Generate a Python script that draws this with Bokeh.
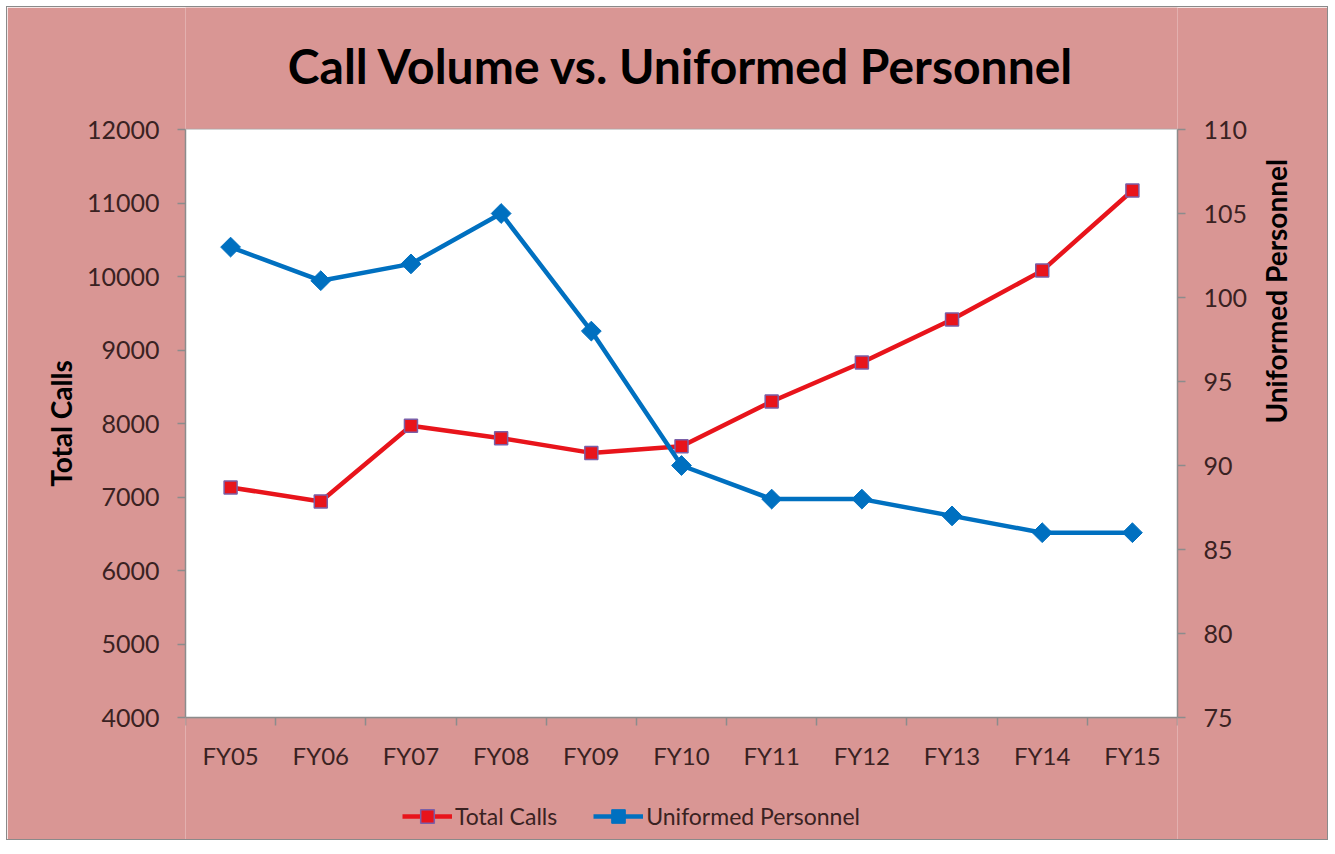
import math
from bokeh.plotting import figure
from bokeh.models import Range1d, LinearAxis, FixedTicker, Legend, LegendItem, BoxAnnotation, Label
from bokeh.embed import file_html
from bokeh.resources import INLINE

categories = ["FY05", "FY06", "FY07", "FY08", "FY09", "FY10", "FY11", "FY12", "FY13", "FY14", "FY15"]
total_calls = [7130, 6940, 7970, 7800, 7600, 7690, 8300, 8830, 9415, 10080, 11170]
uniformed = [103, 101, 102, 105, 98, 90, 88, 88, 87, 86, 86]
left_ticks = [4000, 5000, 6000, 7000, 8000, 9000, 10000, 11000, 12000]
right_ticks = [75, 80, 85, 90, 95, 100, 105, 110]
title_text = "Call Volume vs. Uniformed Personnel"

FONT = "Lato"
TXT = "#3a2222"
BG = "#D99694"

xs = list(range(len(categories)))

# layout: plot area 992x588 px, with equal strips above and below it (inside the
# frame) that carry the title, the x-axis labels and the legend
PLOT_W = 992
PLOT_H = 588
EXT = 122
l_lo, l_hi = left_ticks[0], left_ticks[-1]
r_lo, r_hi = right_ticks[0], right_ticks[-1]
l_ext = EXT / PLOT_H * (l_hi - l_lo)
r_ext = EXT / PLOT_H * (r_hi - r_lo)

p = figure(frame_width=PLOT_W, frame_height=PLOT_H + 2 * EXT, output_backend="svg", toolbar_location=None,
           x_range=Range1d(-0.5, len(categories) - 0.5), y_range=Range1d(l_lo - l_ext, l_hi + l_ext),
           min_border_left=178, min_border_right=150, min_border_top=0, min_border_bottom=0,
           background_fill_color=BG, border_fill_color=BG)
p.styles = {"border": "1px solid #8a8a8a", "margin-left": "6px", "margin-top": "6px"}
p.outline_line_color = None

p.add_layout(BoxAnnotation(bottom=l_lo, top=l_hi, fill_color="white", fill_alpha=1.0,
                           line_color=None, level="underlay"))

p.add_layout(Label(x=PLOT_W / 2, y=PLOT_H + 2 * EXT - 58, x_units="screen", y_units="screen",
                   text=title_text, text_align="center", text_baseline="middle",
                   text_font=FONT, text_font_size="48px", text_font_style="bold",
                   text_color="black"))

p.extra_y_ranges = {"right": Range1d(r_lo - r_ext, r_hi + r_ext)}

# x axis
xa = p.xaxis[0]
xa.fixed_location = l_lo
xa.ticker = FixedTicker(ticks=xs, minor_ticks=[i - 0.5 for i in range(len(categories) + 1)])
xa.major_label_overrides = {i: c for i, c in enumerate(categories)}
xa.major_tick_line_color = None
xa.major_tick_out = 0
xa.major_tick_in = 0
xa.minor_tick_out = 8
xa.minor_tick_in = 0
xa.minor_tick_line_color = "#8c8c8c"
xa.minor_tick_line_width = 1.5
xa.axis_line_color = "#8c8c8c"
xa.axis_line_width = 1.5
xa.major_label_standoff = 15
xa.major_label_text_font = FONT
xa.major_label_text_font_size = "24px"
xa.major_label_text_color = TXT

# left axis
ya = p.yaxis[0]
ya.bounds = (l_lo, l_hi)
ya.ticker = FixedTicker(ticks=left_ticks)
ya.minor_tick_line_color = None
ya.major_tick_out = 8
ya.major_tick_in = 0
ya.major_tick_line_color = "#8c8c8c"
ya.major_tick_line_width = 1.5
ya.axis_line_color = "#8c8c8c"
ya.axis_line_width = 1.5
ya.major_label_standoff = 18
ya.major_label_text_font = FONT
ya.major_label_text_font_size = "25px"
ya.major_label_text_color = TXT
ya.axis_label = "Total Calls"
ya.axis_label_text_font = FONT
ya.axis_label_text_font_size = "28px"
ya.axis_label_text_font_style = "bold"
ya.axis_label_text_color = "black"
ya.axis_label_standoff = 6

# right axis
ra = LinearAxis(y_range_name="right", ticker=FixedTicker(ticks=right_ticks), bounds=(r_lo, r_hi))
ra.minor_tick_line_color = None
ra.major_tick_out = 8
ra.major_tick_in = 0
ra.major_tick_line_color = "#8c8c8c"
ra.major_tick_line_width = 1.5
ra.axis_line_color = "#8c8c8c"
ra.axis_line_width = 1.5
ra.major_label_standoff = 18
ra.major_label_text_font = FONT
ra.major_label_text_font_size = "25px"
ra.major_label_text_color = TXT
ra.axis_label = "Uniformed Personnel"
ra.axis_label_text_font = FONT
ra.axis_label_text_font_size = "28px"
ra.axis_label_text_font_style = "bold"
ra.axis_label_text_color = "black"
ra.axis_label_standoff = 26
if "axis_label_orientation" in ra.properties():
    ra.axis_label_orientation = math.pi / 2
p.add_layout(ra, "right")

p.xgrid.grid_line_color = None
p.ygrid.ticker = FixedTicker(ticks=left_ticks)
p.ygrid.grid_line_color = "#a6a6a6"
p.ygrid.grid_line_width = 1.5

RED = "#E8141B"
BLUE = "#0070C0"

l1 = p.line(xs, total_calls, line_color=RED, line_width=4.5)
m1 = p.scatter(xs, total_calls, marker="square", size=13, fill_color=RED,
               line_color="#7a5fa8", line_width=1.5)
l2 = p.line(xs, uniformed, line_color=BLUE, line_width=4.5, y_range_name="right")
m2 = p.scatter(xs, uniformed, marker="square", angle=math.pi / 4, size=14, fill_color=BLUE,
               line_color=BLUE, y_range_name="right")

legend = Legend(items=[LegendItem(label="Total Calls", renderers=[l1, m1]),
                       LegendItem(label="Uniformed Personnel", renderers=[l2, m2])],
                orientation="horizontal", location=(217, 6))
legend.background_fill_alpha = 0
legend.border_line_color = None
legend.label_text_font = FONT
legend.label_text_font_size = "23px"
legend.label_text_color = TXT
legend.glyph_width = 50
legend.glyph_height = 34
legend.label_standoff = 3
legend.spacing = 36
legend.margin = 0
legend.padding = 0
p.add_layout(legend, "center")

open("out.html", "w").write(file_html(p, INLINE))
